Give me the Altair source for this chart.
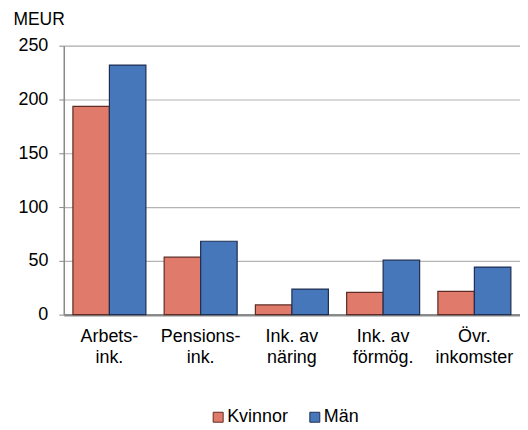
import altair as alt
import pandas as pd

categories = ["Arbets-\nink.", "Pensions-\nink.", "Ink. av\nnäring", "Ink. av\nförmög.", "Övr.\ninkomster"]
series = ["Kvinnor", "Män"]
kvinnor = [193.5, 53.4, 9.0, 20.7, 21.6]
man = [232.0, 68.2, 23.8, 50.6, 44.2]

rows = []
for c, k, m in zip(categories, kvinnor, man):
    rows.append({"cat": c, "serie": "Kvinnor", "val": k})
    rows.append({"cat": c, "serie": "Män", "val": m})
df = pd.DataFrame(rows)

fills = ["#E07A6A", "#4677BA"]
strokes = ["#5E2C24", "#1E2F52"]
FONT = "Liberation Sans"
FS = 18

leg = dict(title=None, orient="none", direction="horizontal",
           legendX=146, legendY=364, symbolType="square",
           symbolSize=100, symbolStrokeWidth=1, labelFontSize=FS,
           labelFont=FONT, labelColor="#000",
           labelOffset=0, columnPadding=17, symbolOpacity=1)

chart = alt.Chart(df).mark_bar(strokeWidth=1.2).encode(
    x=alt.X("cat:N", sort=categories,
            scale=alt.Scale(paddingInner=0.2, paddingOuter=0.1),
            axis=alt.Axis(title=None, labelAngle=0, labelExpr="split(datum.label, '\\n')",
                          labelFontSize=FS, labelFont=FONT, labelColor="#000",
                          labelPadding=13, labelLineHeight=21, labelBaseline="top",
                          ticks=False, domainColor="#8a8a8a", domainWidth=2.5, grid=False)),
    xOffset=alt.XOffset("serie:N", sort=series),
    y=alt.Y("val:Q", scale=alt.Scale(domain=[0, 250], nice=False),
            axis=alt.Axis(values=[0, 50, 100, 150, 200, 250], title="MEUR", titleAngle=0,
                          titleAlign="left", titleBaseline="alphabetic", titleX=-51, titleY=-21,
                          titleFontSize=17.5, titleFont=FONT, titleFontWeight="normal",
                          titleColor="#000",
                          labelFontSize=FS, labelFont=FONT, labelColor="#000",
                          labelPadding=11, tickSize=5, tickColor="#8a8a8a",
                          domainColor="#8a8a8a", domainWidth=1.5,
                          gridColor="#b4b4b4", gridWidth=1.2)),
    color=alt.Color("serie:N", sort=series, scale=alt.Scale(domain=series, range=fills),
                    legend=alt.Legend(**leg)),
    stroke=alt.Stroke("serie:N", sort=series, scale=alt.Scale(domain=series, range=strokes),
                      legend=alt.Legend(**leg)),
).properties(
    width=458, height=270,
    autosize=alt.AutoSizeParams(type="none"),
    padding={"left": 56, "top": 37, "right": 0, "bottom": 120},
).configure_view(stroke=None).configure(background="white")

chart.save("out.html", embed_options={"renderer": "svg", "actions": False})
